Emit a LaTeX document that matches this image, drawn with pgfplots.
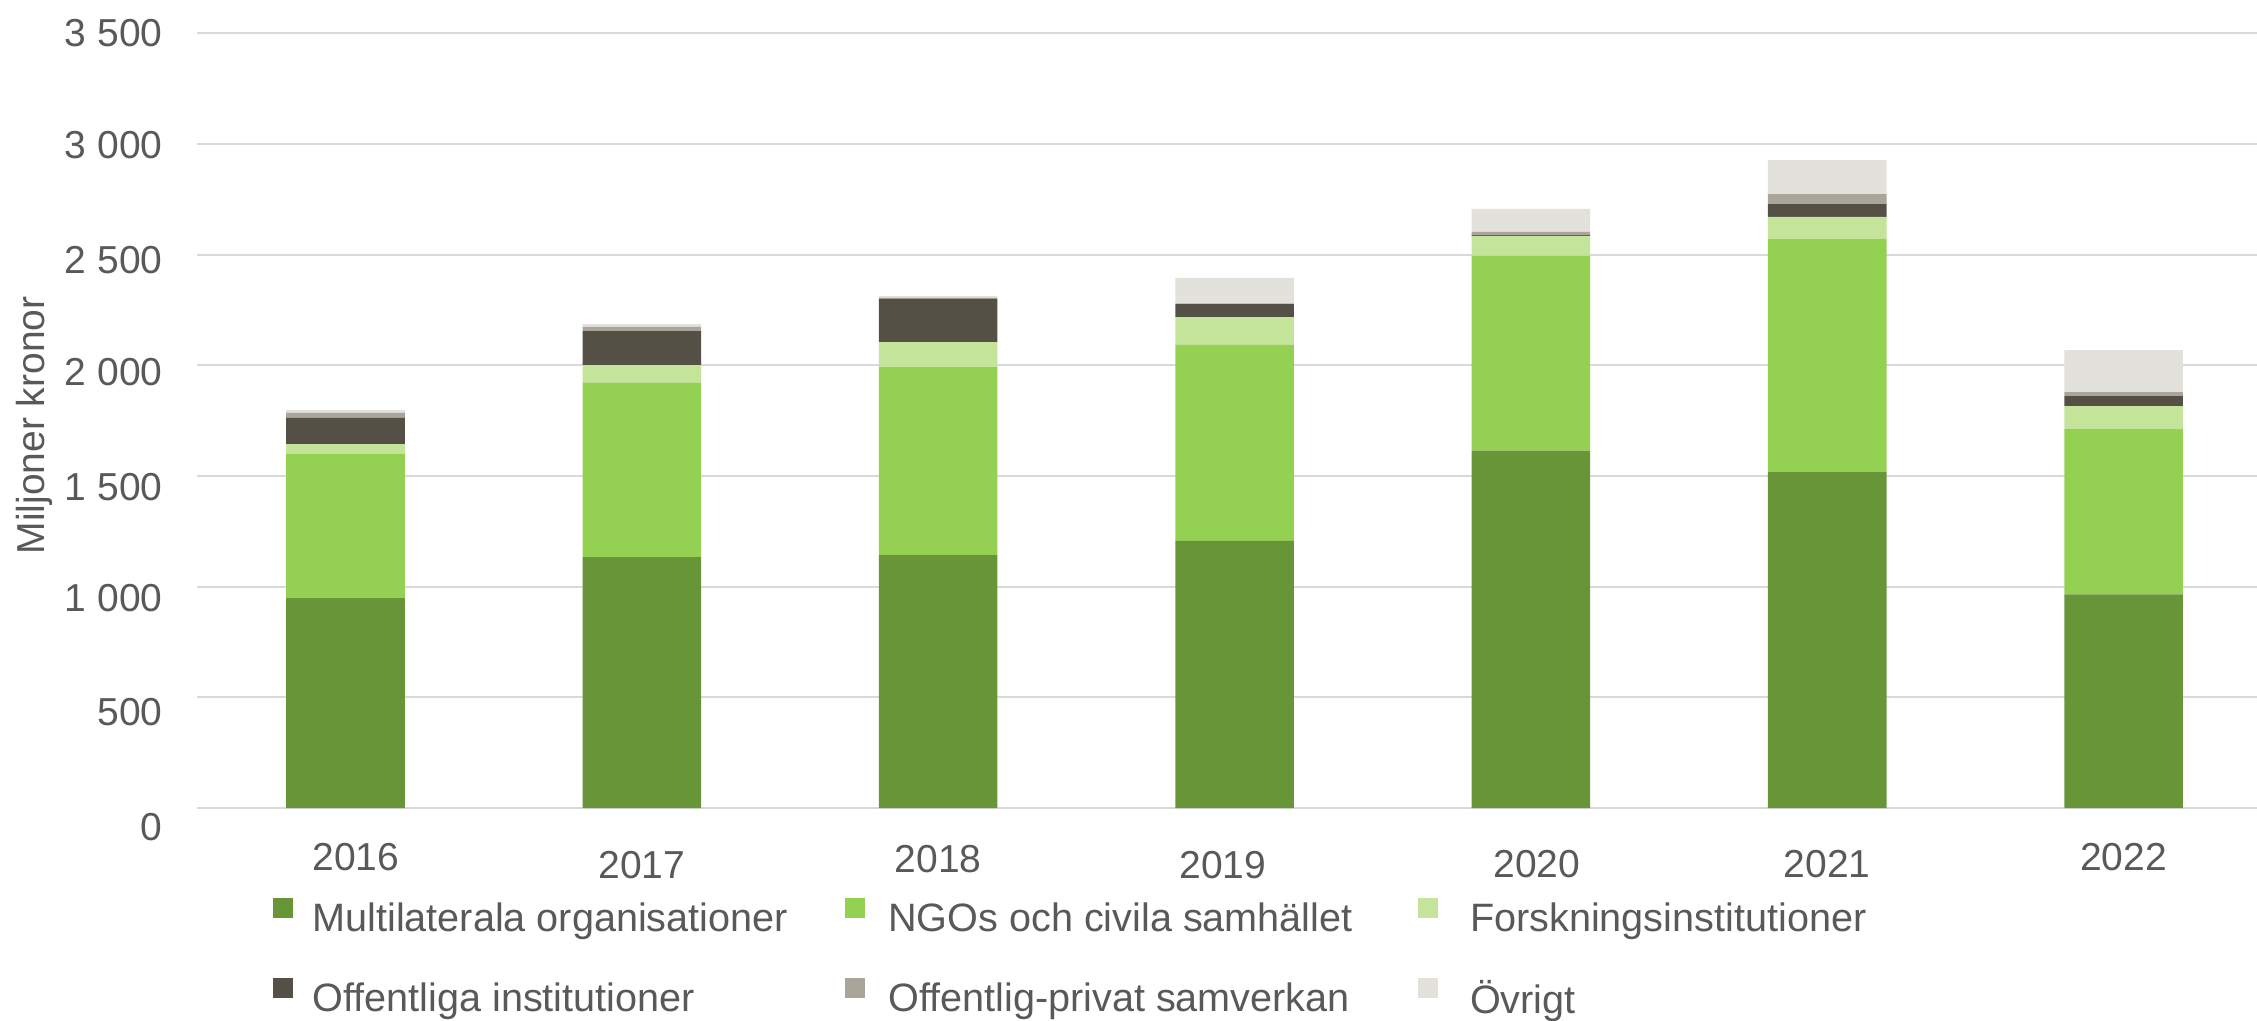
\documentclass[border=0pt]{standalone}
\usepackage{pgfplots}
\pgfplotsset{compat=1.18}
\usepackage{fontspec}
\setmainfont{Liberation Sans}
\definecolor{cM}{RGB}{105,149,57}
\definecolor{cN}{RGB}{148,209,83}
\definecolor{cF}{RGB}{195,228,153}
\definecolor{cO}{RGB}{84,80,70}
\definecolor{cP}{RGB}{169,165,154}
\definecolor{cR}{RGB}{226,225,220}
\definecolor{tgray}{RGB}{89,89,89}
\definecolor{ggray}{RGB}{217,217,217}
\begin{document}
\begin{tikzpicture}
\begin{axis}[
  scale only axis, width=514.9pt, height=193.75pt,
  xmin=-0.5, xmax=6.45, ymin=0, ymax=3500,
  ybar stacked, bar width=0.4,
  axis line style={draw=none},
  major tick length=0pt,
  ymajorgrids, grid style={color=ggray, line width=0.5pt},
  xtick={0,1,2,3,4,5,6},
  xticklabels={\hspace*{5.2pt}2016,\raisebox{-2.1pt}{2017},\raisebox{-0.6pt}{2018},\raisebox{-2.1pt}{2019}\hspace*{5.8pt},\hspace*{3pt}\raisebox{-1.8pt}{2020},\raisebox{-1.8pt}{2021},2022},
  ytick={0,500,1000,1500,2000,2500,3000,3500},
  yticklabels={\raisebox{-4.5pt}{0},\raisebox{-3.6pt}{500},\raisebox{-2.75pt}{1 000},\raisebox{-2.6pt}{1 500},\raisebox{-1.5pt}{2 000},\raisebox{-1.25pt}{2 500},\raisebox{-0.25pt}{3 000},\raisebox{0.25pt}{3 500}},
  ticklabel style={font=\fontsize{9.75}{11.7}\selectfont, text=tgray, inner sep=0pt},
  xticklabel style={anchor=base, yshift=-15.6pt},
  yticklabel style={anchor=base east, xshift=-8.5pt, yshift=-3.5pt},
  every axis y label/.style={at={([xshift=-38.1pt,yshift=-1.2pt]axis description cs:0,0.5)}, rotate=90, anchor=base},
  ylabel={Miljoner kronor},
  ylabel style={font=\fontsize{9.75}{11.7}\selectfont, text=tgray, inner sep=0pt},
  legend style={at={(axis description cs:0,0)}, anchor=north west, xshift=18.8pt, yshift=-22.5pt,
    draw=none, fill=none, inner sep=0pt, outer sep=0pt,
    font=\fontsize{9.9}{11.9}\selectfont, text=tgray,
    nodes={inner sep=0pt, outer sep=0pt},
    /tikz/every odd column/.append style={column sep=5pt},
    row sep=10.05pt},
  legend columns=3,
  legend cell align=left,
  legend image code/.code={\draw[#1,draw=none] (0pt,0.5pt) rectangle (5pt,5.5pt);},
]
\addplot[fill=cM, draw=none] coordinates {(0,949) (1,1134) (2,1143) (3,1207) (4,1615) (5,1518) (6,965)};
\addplot[fill=cN, draw=none] coordinates {(0,650) (1,786) (2,849) (3,885) (4,879) (5,1052) (6,747)};
\addplot[fill=cF, draw=none] coordinates {(0,45) (1,81) (2,113) (3,126) (4,90) (5,100) (6,104)};
\addplot[fill=cO, draw=none] coordinates {(0,118) (1,153) (2,195) (3,59) (4,4) (5,58) (6,45)};
\addplot[fill=cP, draw=none] coordinates {(0,23) (1,19) (2,4) (3,2) (4,14) (5,45) (6,18)};
\addplot[fill=cR, draw=none] coordinates {(0,13) (1,13) (2,8) (3,116) (4,104) (5,154) (6,190)};
\legend{\makebox[133.2pt][l]{Multilaterala organisationer},
        \makebox[133.2pt][l]{\hspace{0.75pt}NGOs och civila samhället},
        \makebox[133.2pt][l]{\hspace{3pt}Forskningsinstitutioner},
        \makebox[133.2pt][l]{Offentliga institutioner},
        \makebox[133.2pt][l]{\hspace{0.75pt}Offentlig-privat samverkan},
        \makebox[133.2pt][l]{\hspace{3pt}Övrigt}}
\end{axis}
\pgfresetboundingbox
\useasboundingbox (-49.33pt,-52.98pt) rectangle (514.92pt,202.03pt);
\end{tikzpicture}
\end{document}
